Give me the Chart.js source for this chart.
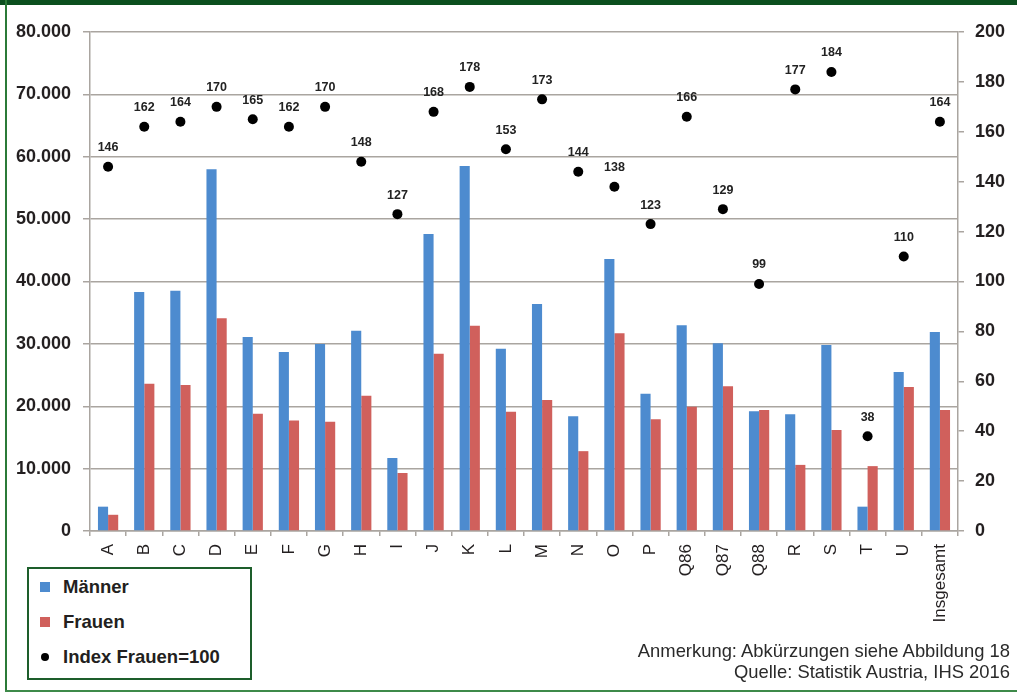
<!DOCTYPE html>
<html lang="de">
<head>
<meta charset="utf-8">
<title>Einkommen nach Branchen</title>
<script src="https://cdn.jsdelivr.net/npm/chart.js@4.4.1/dist/chart.umd.min.js"></script>
<style>
  html, body { margin: 0; padding: 0; background: #fff; }
  #wrap { position: relative; width: 1017px; height: 693px; overflow: hidden; background: #fff; }
  #topbar { position: absolute; left: 0; top: 0; width: 1017px; height: 5px; background: #0b4f1e; }
  #leftline { position: absolute; left: 5px; top: 0; width: 2px; height: 692px; background: #2b7a38; }
  #bottomline { position: absolute; left: 5px; top: 690px; width: 1012px; height: 2px; background: #3e8a4a; }
  #chart { position: absolute; left: 0; top: 0; }
  #legend {
    position: absolute; left: 27px; top: 567px; width: 225px; height: 113px;
    box-sizing: border-box; border: 2px solid #1d5e2b; background: #fff;
    font-family: "Liberation Sans", Arial, sans-serif; font-weight: bold; font-size: 18.5px; color: #231f20;
  }
  .item { position: absolute; left: 0; height: 20px; line-height: 20px; white-space: nowrap; }
  .item .key { position: absolute; top: 5px; width: 10px; height: 10px; }
  .item .txt { position: absolute; left: 34px; top: 0; }
  #note {
    position: absolute; right: 7px; top: 640px; text-align: right;
    font-family: "Liberation Sans", Arial, sans-serif; font-size: 18.4px; line-height: 21px; color: #2a2a2a;
    white-space: nowrap;
  }
</style>
</head>
<body>
<div id="wrap">
  <canvas id="chart" width="1017" height="693"></canvas>
  <div id="topbar"></div>
  <div id="leftline"></div>
  <div id="bottomline"></div>
  <div id="legend"></div>
  <div id="note">Anmerkung: Abkürzungen siehe Abbildung 18<br>Quelle: Statistik Austria, IHS 2016</div>
</div>
<script>
// Wirtschaftsbereiche (ÖNACE-Abschnitte) und Gesamtwert
const categories = ['A','B','C','D','E','F','G','H','I','J','K','L','M','N','O','P','Q86','Q87','Q88','R','S','T','U','Insgesamt'];

// Einkommen Männer (linke Achse)
const maenner = [3900, 38300, 38500, 58000, 31100, 28700, 30000, 32100, 11700, 47600, 58500, 29200,
                 36400, 18400, 43600, 22000, 33000, 30100, 19200, 18700, 29800, 3900, 25500, 31900];

// Einkommen Frauen (linke Achse)
const frauen = [2600, 23600, 23400, 34100, 18800, 17700, 17500, 21700, 9300, 28400, 32900, 19100,
                21000, 12800, 31700, 17900, 19900, 23200, 19400, 10600, 16200, 10400, 23100, 19400];

// Index Männer zu Frauen, Frauen = 100 (rechte Achse)
const indexFrauen = [146, 162, 164, 170, 165, 162, 170, 148, 127, 168, 178, 153,
                     173, 144, 138, 123, 166, 129, 99, 177, 184, 38, 110, 164];

// Achsenbereiche
const leftAxis = { min: 0, max: 80000, step: 10000 };
const rightAxis = { min: 0, max: 200, step: 20 };

const seriesNames = ['Männer', 'Frauen', 'Index Frauen=100'];
const colors = { maenner: '#4d8bcf', frauen: '#d0605c', index: '#000000' };

const gridColor = '#aaa5a0';
const textColor = '#231f20';
const fontFamily = '"Liberation Sans", Arial, sans-serif';

function deNumber(v) {
  return String(Math.round(v)).replace(/\B(?=(\d{3})+(?!\d))/g, '.');
}

// Werte über den Indexpunkten
const pointLabels = {
  id: 'pointLabels',
  afterDatasetsDraw(chart) {
    const meta = chart.getDatasetMeta(2);
    const ctx = chart.ctx;
    ctx.save();
    ctx.font = 'bold 12.5px ' + fontFamily;
    ctx.fillStyle = '#222';
    ctx.textAlign = 'center';
    ctx.textBaseline = 'middle';
    meta.data.forEach((pt, i) => {
      ctx.fillText(String(indexFrauen[i]), pt.x, pt.y - 19);
    });
    ctx.restore();
  }
};

const chart = new Chart(document.getElementById('chart'), {
  data: {
    labels: categories,
    datasets: [
      { type: 'bar', label: seriesNames[0], data: maenner, backgroundColor: colors.maenner,
        yAxisID: 'y', order: 1, categoryPercentage: 0.56, barPercentage: 1.0 },
      { type: 'bar', label: seriesNames[1], data: frauen, backgroundColor: colors.frauen,
        yAxisID: 'y', order: 1, categoryPercentage: 0.56, barPercentage: 1.0 },
      { type: 'line', label: seriesNames[2], data: indexFrauen, yAxisID: 'y1', order: 0,
        showLine: false, pointRadius: 5, pointHoverRadius: 5,
        pointBackgroundColor: colors.index, pointBorderColor: colors.index, pointBorderWidth: 0 }
    ]
  },
  options: {
    responsive: false,
    animation: false,
    events: [],
    layout: { padding: { top: 32, left: 0, right: 0, bottom: 0 } },
    plugins: { legend: { display: false }, tooltip: { enabled: false }, title: { display: false } },
    scales: {
      x: {
        type: 'category',
        offset: true,
        grid: { display: true, drawOnChartArea: false, drawTicks: true, tickLength: 5, color: gridColor, lineWidth: 1.5, offset: true },
        border: { display: true, color: gridColor, width: 1.5 },
        ticks: { autoSkip: false, minRotation: 90, maxRotation: 90, padding: 8,
                 color: textColor, font: { family: fontFamily, size: 17 } },
        afterFit(scale) { scale.height = 162; }
      },
      y: {
        position: 'left',
        min: leftAxis.min, max: leftAxis.max,
        grid: { color: gridColor, lineWidth: 1.5, tickLength: 7 },
        border: { display: true, color: gridColor, width: 1.5 },
        ticks: { stepSize: leftAxis.step, padding: 12, color: textColor,
                 font: { family: fontFamily, size: 18, weight: 'bold' },
                 callback: v => deNumber(v) },
        afterFit(scale) { scale.width = 90; }
      },
      y1: {
        position: 'right',
        min: rightAxis.min, max: rightAxis.max,
        grid: { drawOnChartArea: false, color: gridColor, lineWidth: 1.5, tickLength: 6 },
        border: { display: true, color: gridColor, width: 1.5 },
        ticks: { stepSize: rightAxis.step, padding: 11, color: textColor,
                 font: { family: fontFamily, size: 18, weight: 'bold' } },
        afterFit(scale) { scale.width = 59; }
      }
    }
  },
  plugins: [pointLabels]
});

// Legende aus den Datenreihen
(function buildLegend() {
  const box = document.getElementById('legend');
  const tops = [8, 43, 78];
  chart.data.datasets.forEach((ds, i) => {
    const item = document.createElement('div');
    item.className = 'item';
    item.style.top = tops[i] + 'px';
    const key = document.createElement('span');
    key.className = 'key';
    if (ds.type === 'line') {
      key.style.left = '12px';
      key.style.top = '6px';
      key.style.width = '8px';
      key.style.height = '8px';
      key.style.borderRadius = '50%';
      key.style.background = ds.pointBackgroundColor;
    } else {
      key.style.left = '11px';
      key.style.background = ds.backgroundColor;
    }
    const txt = document.createElement('span');
    txt.className = 'txt';
    txt.textContent = ds.label;
    item.appendChild(key);
    item.appendChild(txt);
    box.appendChild(item);
  });
})();
</script>
</body>
</html>
